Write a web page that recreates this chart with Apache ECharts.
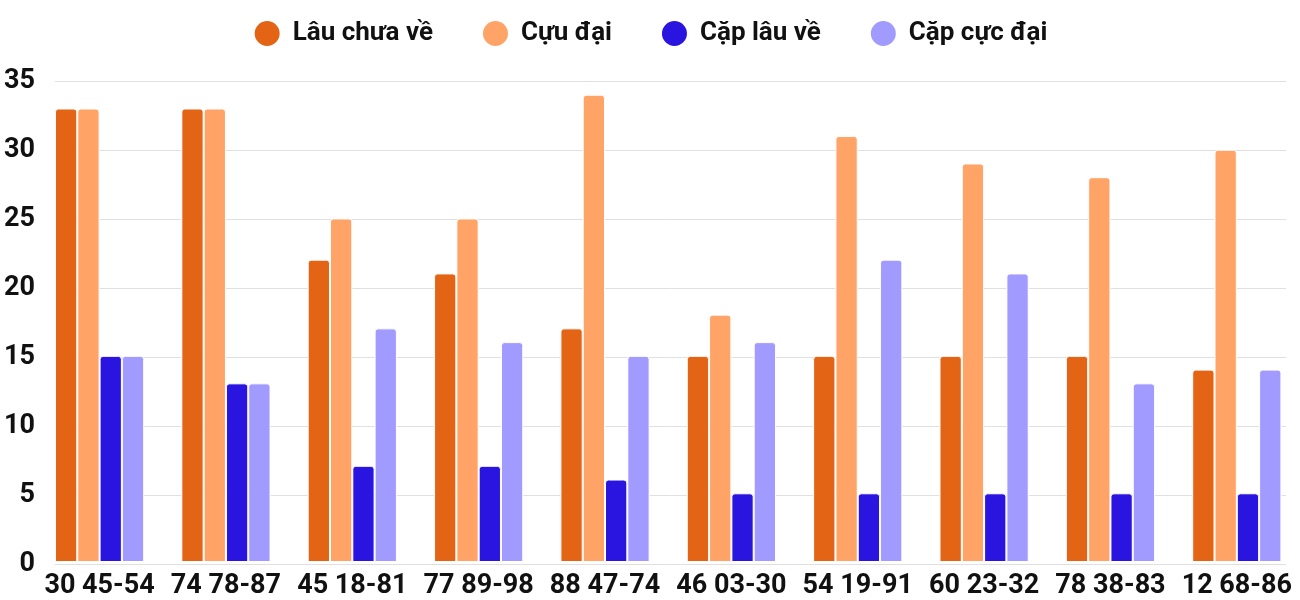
<!DOCTYPE html>
<html>
<head>
<meta charset="utf-8">
<script src="https://cdn.jsdelivr.net/npm/echarts@6/dist/echarts.min.js"></script>
<style>html,body{margin:0;padding:0;background:#fff}#c{width:1300px;height:600px}</style>
</head>
<body>
<div id="c"></div>
<script>
const categories = ["30 45-54", "74 78-87", "45 18-81", "77 89-98", "88 47-74", "46 03-30", "54 19-91", "60 23-32", "78 38-83", "12 68-86"];
const seriesNames = ["Lâu chưa về", "Cựu đại", "Cặp lâu về", "Cặp cực đại"];
const lauChuaVe = [33, 33, 22, 21, 17, 15, 15, 15, 15, 14];
const cuuDai = [33, 33, 25, 25, 34, 18, 31, 29, 28, 30];
const capLauVe = [15, 13, 7, 7, 6, 5, 5, 5, 5, 5];
const capCucDai = [15, 13, 17, 16, 15, 16, 22, 21, 13, 14];
const yTicks = {min: 0, max: 35, interval: 5};

const colors = ["#E36414", "#FFA366", "#2A14E0", "#A19AFF"];
const dataSets = [lauChuaVe, cuuDai, capLauVe, capCucDai];
const font = "Roboto, 'Noto Sans', sans-serif";

const chart = echarts.init(document.getElementById('c'));
chart.setOption({
  animation: false,
  color: colors,
  legend: {
    top: 14, left: 'center',
    icon: 'circle', itemWidth: 27, itemHeight: 27, itemGap: 48,
    textStyle: {fontFamily: font, fontSize: 26, fontWeight: 'bold', color: '#111', padding: [0, 0, 0, 7]},
    data: seriesNames
  },
  grid: [
    {left: 55, right: 14, top: 81, bottom: 36, containLabel: false},
    {left: 36.4, width: 1267, top: 81, bottom: 36, containLabel: false}
  ],
  xAxis: [
    {gridIndex: 0, type: 'value', min: 0, max: 1, show: false},
    {gridIndex: 1, type: 'category', data: categories,
     axisLine: {show: false}, axisTick: {show: false},
     axisLabel: {interval: 0, fontFamily: font, fontSize: 27, fontWeight: 'bold', color: '#111', margin: 11}}
  ],
  yAxis: [
    {gridIndex: 0, type: 'value', min: yTicks.min, max: yTicks.max, interval: yTicks.interval,
     axisLine: {show: false}, axisTick: {show: false},
     splitLine: {lineStyle: {color: '#e0e0e0', width: 1}},
     axisLabel: {fontFamily: font, fontSize: 27, fontWeight: 'bold', color: '#111', margin: 20}},
    {gridIndex: 1, type: 'value', min: yTicks.min, max: yTicks.max, interval: yTicks.interval, show: false}
  ],
  series: seriesNames.map((n, i) => ({
    name: n, type: 'bar', xAxisIndex: 1, yAxisIndex: 1,
    data: dataSets[i],
    barGap: '0%', barCategoryGap: '29.4%',
    itemStyle: {color: colors[i], borderColor: '#fff', borderWidth: 1, borderRadius: [3, 3, 0, 0]}
  }))
});
</script>
</body>
</html>
